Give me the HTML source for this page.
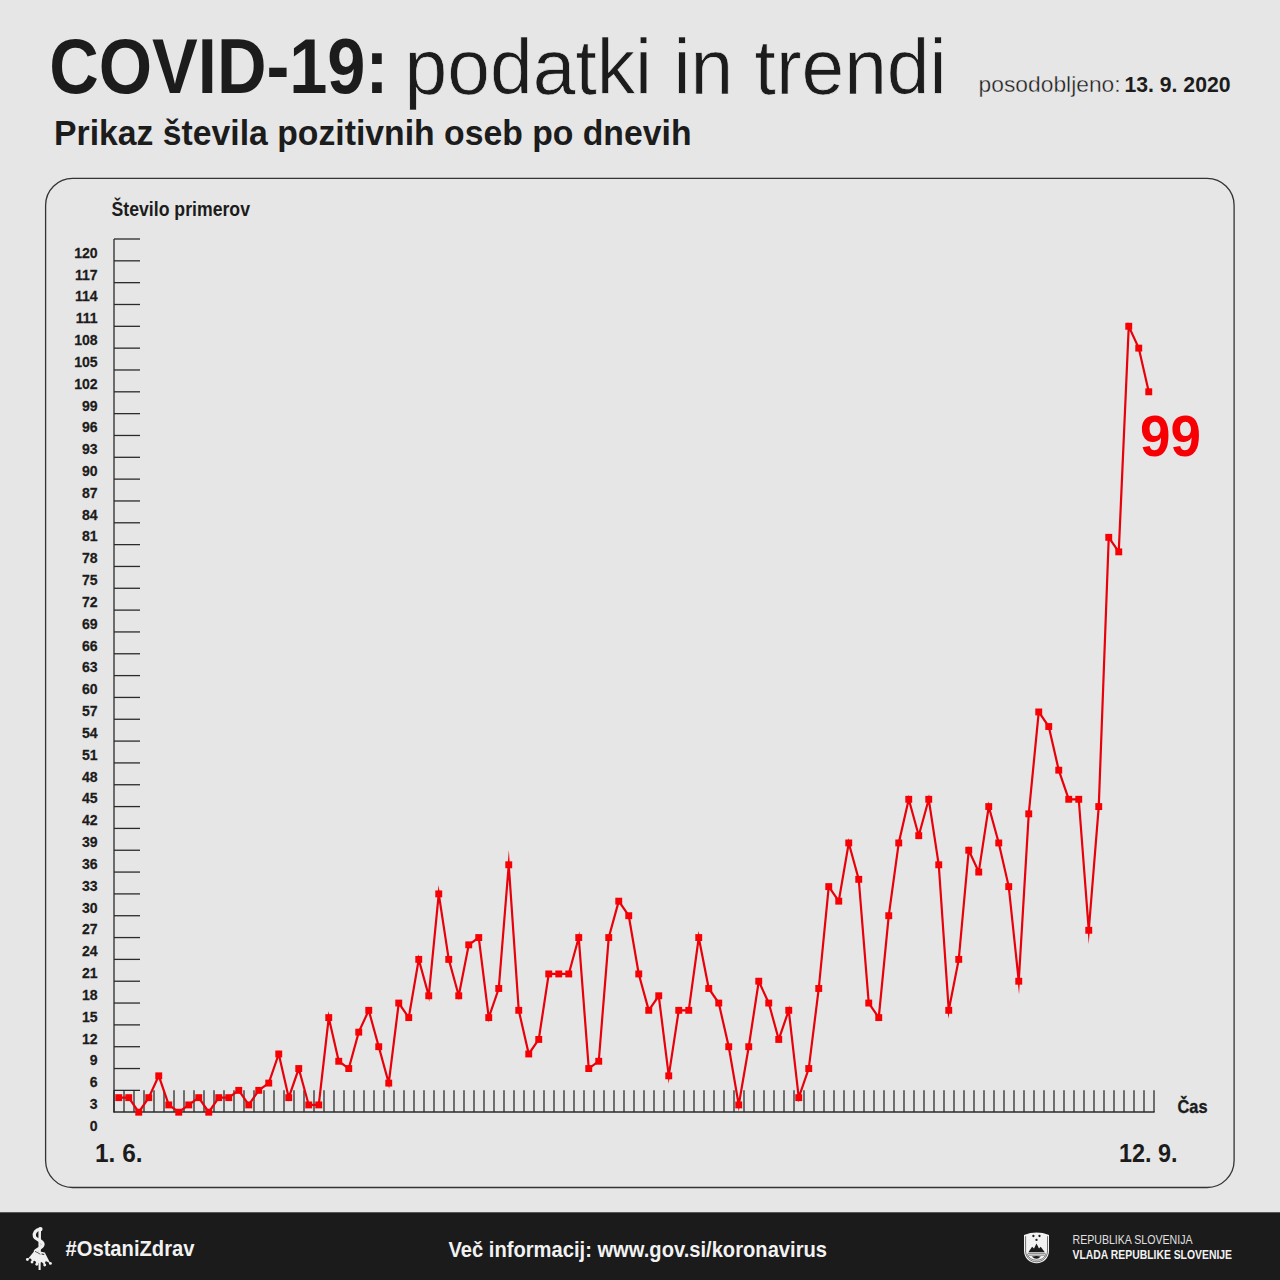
<!DOCTYPE html>
<html><head><meta charset="utf-8">
<style>
html,body{margin:0;padding:0;background:#e6e6e6;}
body{width:1280px;height:1280px;overflow:hidden;position:relative;}
svg{position:absolute;left:0;top:0;}
text{font-family:"Liberation Sans",sans-serif;fill:#1c1c1c;}
.b{font-weight:bold;}
.r{font-weight:normal;}
.yl{font-weight:bold;font-size:15.3px;text-anchor:end;stroke:#1c1c1c;stroke-width:0.25;}
</style></head><body>
<svg width="1280" height="1280" viewBox="0 0 1280 1280">
<text x="49.3" y="93.3" class="b" font-size="77.5" textLength="339" lengthAdjust="spacingAndGlyphs">COVID-19:</text><text x="404.6" y="93.9" class="r" style="stroke:#e6e6e6;stroke-width:0.7" font-size="77" textLength="542" lengthAdjust="spacingAndGlyphs">podatki in trendi</text><text x="978.6" y="91.6" class="r" style="stroke:#e6e6e6;stroke-width:0.35" font-size="22" textLength="142" lengthAdjust="spacingAndGlyphs">posodobljeno:</text><text x="1124.5" y="91.6" class="b" font-size="21.5" textLength="106" lengthAdjust="spacingAndGlyphs">13. 9. 2020</text><text x="54" y="144.6" class="b" font-size="35" textLength="637.5" lengthAdjust="spacingAndGlyphs">Prikaz števila pozitivnih oseb po dnevih</text><text x="111.5" y="215.75" class="b" font-size="19.5" textLength="138.5" lengthAdjust="spacingAndGlyphs">Število primerov</text><text x="95" y="1162.4" class="b" font-size="25" textLength="47.5" lengthAdjust="spacingAndGlyphs">1. 6.</text><text x="1119" y="1162" class="b" font-size="25" textLength="58.5" lengthAdjust="spacingAndGlyphs">12. 9.</text><text x="1177.5" y="1112.6" class="b" style="stroke:#1c1c1c;stroke-width:0.35" font-size="18.5" textLength="30" lengthAdjust="spacingAndGlyphs">Čas</text><text x="1140" y="455.8" class="b" font-size="57.5" style="fill:#f70003" textLength="61" lengthAdjust="spacingAndGlyphs">99</text>
<rect x="45.6" y="178.4" width="1188.5" height="1009.1" rx="27" ry="27" fill="none" stroke="#333" stroke-width="1.3"/>
<line x1="114" y1="239" x2="114" y2="1112.6" stroke="#2b2b2b" stroke-width="1.3"/>
<line x1="114" y1="1090.37" x2="140" y2="1090.37" stroke="#2b2b2b" stroke-width="1.3"/>
<line x1="114" y1="1068.54" x2="140" y2="1068.54" stroke="#2b2b2b" stroke-width="1.3"/>
<line x1="114" y1="1046.71" x2="140" y2="1046.71" stroke="#2b2b2b" stroke-width="1.3"/>
<line x1="114" y1="1024.88" x2="140" y2="1024.88" stroke="#2b2b2b" stroke-width="1.3"/>
<line x1="114" y1="1003.05" x2="140" y2="1003.05" stroke="#2b2b2b" stroke-width="1.3"/>
<line x1="114" y1="981.22" x2="140" y2="981.22" stroke="#2b2b2b" stroke-width="1.3"/>
<line x1="114" y1="959.39" x2="140" y2="959.39" stroke="#2b2b2b" stroke-width="1.3"/>
<line x1="114" y1="937.56" x2="140" y2="937.56" stroke="#2b2b2b" stroke-width="1.3"/>
<line x1="114" y1="915.73" x2="140" y2="915.73" stroke="#2b2b2b" stroke-width="1.3"/>
<line x1="114" y1="893.90" x2="140" y2="893.90" stroke="#2b2b2b" stroke-width="1.3"/>
<line x1="114" y1="872.07" x2="140" y2="872.07" stroke="#2b2b2b" stroke-width="1.3"/>
<line x1="114" y1="850.24" x2="140" y2="850.24" stroke="#2b2b2b" stroke-width="1.3"/>
<line x1="114" y1="828.41" x2="140" y2="828.41" stroke="#2b2b2b" stroke-width="1.3"/>
<line x1="114" y1="806.58" x2="140" y2="806.58" stroke="#2b2b2b" stroke-width="1.3"/>
<line x1="114" y1="784.75" x2="140" y2="784.75" stroke="#2b2b2b" stroke-width="1.3"/>
<line x1="114" y1="762.92" x2="140" y2="762.92" stroke="#2b2b2b" stroke-width="1.3"/>
<line x1="114" y1="741.09" x2="140" y2="741.09" stroke="#2b2b2b" stroke-width="1.3"/>
<line x1="114" y1="719.26" x2="140" y2="719.26" stroke="#2b2b2b" stroke-width="1.3"/>
<line x1="114" y1="697.43" x2="140" y2="697.43" stroke="#2b2b2b" stroke-width="1.3"/>
<line x1="114" y1="675.60" x2="140" y2="675.60" stroke="#2b2b2b" stroke-width="1.3"/>
<line x1="114" y1="653.77" x2="140" y2="653.77" stroke="#2b2b2b" stroke-width="1.3"/>
<line x1="114" y1="631.94" x2="140" y2="631.94" stroke="#2b2b2b" stroke-width="1.3"/>
<line x1="114" y1="610.11" x2="140" y2="610.11" stroke="#2b2b2b" stroke-width="1.3"/>
<line x1="114" y1="588.28" x2="140" y2="588.28" stroke="#2b2b2b" stroke-width="1.3"/>
<line x1="114" y1="566.45" x2="140" y2="566.45" stroke="#2b2b2b" stroke-width="1.3"/>
<line x1="114" y1="544.62" x2="140" y2="544.62" stroke="#2b2b2b" stroke-width="1.3"/>
<line x1="114" y1="522.79" x2="140" y2="522.79" stroke="#2b2b2b" stroke-width="1.3"/>
<line x1="114" y1="500.96" x2="140" y2="500.96" stroke="#2b2b2b" stroke-width="1.3"/>
<line x1="114" y1="479.13" x2="140" y2="479.13" stroke="#2b2b2b" stroke-width="1.3"/>
<line x1="114" y1="457.30" x2="140" y2="457.30" stroke="#2b2b2b" stroke-width="1.3"/>
<line x1="114" y1="435.47" x2="140" y2="435.47" stroke="#2b2b2b" stroke-width="1.3"/>
<line x1="114" y1="413.64" x2="140" y2="413.64" stroke="#2b2b2b" stroke-width="1.3"/>
<line x1="114" y1="391.81" x2="140" y2="391.81" stroke="#2b2b2b" stroke-width="1.3"/>
<line x1="114" y1="369.98" x2="140" y2="369.98" stroke="#2b2b2b" stroke-width="1.3"/>
<line x1="114" y1="348.15" x2="140" y2="348.15" stroke="#2b2b2b" stroke-width="1.3"/>
<line x1="114" y1="326.32" x2="140" y2="326.32" stroke="#2b2b2b" stroke-width="1.3"/>
<line x1="114" y1="304.49" x2="140" y2="304.49" stroke="#2b2b2b" stroke-width="1.3"/>
<line x1="114" y1="282.66" x2="140" y2="282.66" stroke="#2b2b2b" stroke-width="1.3"/>
<line x1="114" y1="260.83" x2="140" y2="260.83" stroke="#2b2b2b" stroke-width="1.3"/>
<line x1="114" y1="239.00" x2="140" y2="239.00" stroke="#2b2b2b" stroke-width="1.3"/>
<line x1="113.4" y1="1112" x2="1154.6" y2="1112" stroke="#2b2b2b" stroke-width="1.3"/>
<line x1="114" y1="1090.3" x2="114" y2="1112" stroke="#262626" stroke-width="1.25"/>
<line x1="124" y1="1090.3" x2="124" y2="1112" stroke="#262626" stroke-width="1.25"/>
<line x1="134" y1="1090.3" x2="134" y2="1112" stroke="#262626" stroke-width="1.25"/>
<line x1="144" y1="1090.3" x2="144" y2="1112" stroke="#262626" stroke-width="1.25"/>
<line x1="154" y1="1090.3" x2="154" y2="1112" stroke="#262626" stroke-width="1.25"/>
<line x1="164" y1="1090.3" x2="164" y2="1112" stroke="#262626" stroke-width="1.25"/>
<line x1="174" y1="1090.3" x2="174" y2="1112" stroke="#262626" stroke-width="1.25"/>
<line x1="184" y1="1090.3" x2="184" y2="1112" stroke="#262626" stroke-width="1.25"/>
<line x1="194" y1="1090.3" x2="194" y2="1112" stroke="#262626" stroke-width="1.25"/>
<line x1="204" y1="1090.3" x2="204" y2="1112" stroke="#262626" stroke-width="1.25"/>
<line x1="214" y1="1090.3" x2="214" y2="1112" stroke="#262626" stroke-width="1.25"/>
<line x1="224" y1="1090.3" x2="224" y2="1112" stroke="#262626" stroke-width="1.25"/>
<line x1="234" y1="1090.3" x2="234" y2="1112" stroke="#262626" stroke-width="1.25"/>
<line x1="244" y1="1090.3" x2="244" y2="1112" stroke="#262626" stroke-width="1.25"/>
<line x1="254" y1="1090.3" x2="254" y2="1112" stroke="#262626" stroke-width="1.25"/>
<line x1="264" y1="1090.3" x2="264" y2="1112" stroke="#262626" stroke-width="1.25"/>
<line x1="274" y1="1090.3" x2="274" y2="1112" stroke="#262626" stroke-width="1.25"/>
<line x1="284" y1="1090.3" x2="284" y2="1112" stroke="#262626" stroke-width="1.25"/>
<line x1="294" y1="1090.3" x2="294" y2="1112" stroke="#262626" stroke-width="1.25"/>
<line x1="304" y1="1090.3" x2="304" y2="1112" stroke="#262626" stroke-width="1.25"/>
<line x1="314" y1="1090.3" x2="314" y2="1112" stroke="#262626" stroke-width="1.25"/>
<line x1="324" y1="1090.3" x2="324" y2="1112" stroke="#262626" stroke-width="1.25"/>
<line x1="334" y1="1090.3" x2="334" y2="1112" stroke="#262626" stroke-width="1.25"/>
<line x1="344" y1="1090.3" x2="344" y2="1112" stroke="#262626" stroke-width="1.25"/>
<line x1="354" y1="1090.3" x2="354" y2="1112" stroke="#262626" stroke-width="1.25"/>
<line x1="364" y1="1090.3" x2="364" y2="1112" stroke="#262626" stroke-width="1.25"/>
<line x1="374" y1="1090.3" x2="374" y2="1112" stroke="#262626" stroke-width="1.25"/>
<line x1="384" y1="1090.3" x2="384" y2="1112" stroke="#262626" stroke-width="1.25"/>
<line x1="394" y1="1090.3" x2="394" y2="1112" stroke="#262626" stroke-width="1.25"/>
<line x1="404" y1="1090.3" x2="404" y2="1112" stroke="#262626" stroke-width="1.25"/>
<line x1="414" y1="1090.3" x2="414" y2="1112" stroke="#262626" stroke-width="1.25"/>
<line x1="424" y1="1090.3" x2="424" y2="1112" stroke="#262626" stroke-width="1.25"/>
<line x1="434" y1="1090.3" x2="434" y2="1112" stroke="#262626" stroke-width="1.25"/>
<line x1="444" y1="1090.3" x2="444" y2="1112" stroke="#262626" stroke-width="1.25"/>
<line x1="454" y1="1090.3" x2="454" y2="1112" stroke="#262626" stroke-width="1.25"/>
<line x1="464" y1="1090.3" x2="464" y2="1112" stroke="#262626" stroke-width="1.25"/>
<line x1="474" y1="1090.3" x2="474" y2="1112" stroke="#262626" stroke-width="1.25"/>
<line x1="484" y1="1090.3" x2="484" y2="1112" stroke="#262626" stroke-width="1.25"/>
<line x1="494" y1="1090.3" x2="494" y2="1112" stroke="#262626" stroke-width="1.25"/>
<line x1="504" y1="1090.3" x2="504" y2="1112" stroke="#262626" stroke-width="1.25"/>
<line x1="514" y1="1090.3" x2="514" y2="1112" stroke="#262626" stroke-width="1.25"/>
<line x1="524" y1="1090.3" x2="524" y2="1112" stroke="#262626" stroke-width="1.25"/>
<line x1="534" y1="1090.3" x2="534" y2="1112" stroke="#262626" stroke-width="1.25"/>
<line x1="544" y1="1090.3" x2="544" y2="1112" stroke="#262626" stroke-width="1.25"/>
<line x1="554" y1="1090.3" x2="554" y2="1112" stroke="#262626" stroke-width="1.25"/>
<line x1="564" y1="1090.3" x2="564" y2="1112" stroke="#262626" stroke-width="1.25"/>
<line x1="574" y1="1090.3" x2="574" y2="1112" stroke="#262626" stroke-width="1.25"/>
<line x1="584" y1="1090.3" x2="584" y2="1112" stroke="#262626" stroke-width="1.25"/>
<line x1="594" y1="1090.3" x2="594" y2="1112" stroke="#262626" stroke-width="1.25"/>
<line x1="604" y1="1090.3" x2="604" y2="1112" stroke="#262626" stroke-width="1.25"/>
<line x1="614" y1="1090.3" x2="614" y2="1112" stroke="#262626" stroke-width="1.25"/>
<line x1="624" y1="1090.3" x2="624" y2="1112" stroke="#262626" stroke-width="1.25"/>
<line x1="634" y1="1090.3" x2="634" y2="1112" stroke="#262626" stroke-width="1.25"/>
<line x1="644" y1="1090.3" x2="644" y2="1112" stroke="#262626" stroke-width="1.25"/>
<line x1="654" y1="1090.3" x2="654" y2="1112" stroke="#262626" stroke-width="1.25"/>
<line x1="664" y1="1090.3" x2="664" y2="1112" stroke="#262626" stroke-width="1.25"/>
<line x1="674" y1="1090.3" x2="674" y2="1112" stroke="#262626" stroke-width="1.25"/>
<line x1="684" y1="1090.3" x2="684" y2="1112" stroke="#262626" stroke-width="1.25"/>
<line x1="694" y1="1090.3" x2="694" y2="1112" stroke="#262626" stroke-width="1.25"/>
<line x1="704" y1="1090.3" x2="704" y2="1112" stroke="#262626" stroke-width="1.25"/>
<line x1="714" y1="1090.3" x2="714" y2="1112" stroke="#262626" stroke-width="1.25"/>
<line x1="724" y1="1090.3" x2="724" y2="1112" stroke="#262626" stroke-width="1.25"/>
<line x1="734" y1="1090.3" x2="734" y2="1112" stroke="#262626" stroke-width="1.25"/>
<line x1="744" y1="1090.3" x2="744" y2="1112" stroke="#262626" stroke-width="1.25"/>
<line x1="754" y1="1090.3" x2="754" y2="1112" stroke="#262626" stroke-width="1.25"/>
<line x1="764" y1="1090.3" x2="764" y2="1112" stroke="#262626" stroke-width="1.25"/>
<line x1="774" y1="1090.3" x2="774" y2="1112" stroke="#262626" stroke-width="1.25"/>
<line x1="784" y1="1090.3" x2="784" y2="1112" stroke="#262626" stroke-width="1.25"/>
<line x1="794" y1="1090.3" x2="794" y2="1112" stroke="#262626" stroke-width="1.25"/>
<line x1="804" y1="1090.3" x2="804" y2="1112" stroke="#262626" stroke-width="1.25"/>
<line x1="814" y1="1090.3" x2="814" y2="1112" stroke="#262626" stroke-width="1.25"/>
<line x1="824" y1="1090.3" x2="824" y2="1112" stroke="#262626" stroke-width="1.25"/>
<line x1="834" y1="1090.3" x2="834" y2="1112" stroke="#262626" stroke-width="1.25"/>
<line x1="844" y1="1090.3" x2="844" y2="1112" stroke="#262626" stroke-width="1.25"/>
<line x1="854" y1="1090.3" x2="854" y2="1112" stroke="#262626" stroke-width="1.25"/>
<line x1="864" y1="1090.3" x2="864" y2="1112" stroke="#262626" stroke-width="1.25"/>
<line x1="874" y1="1090.3" x2="874" y2="1112" stroke="#262626" stroke-width="1.25"/>
<line x1="884" y1="1090.3" x2="884" y2="1112" stroke="#262626" stroke-width="1.25"/>
<line x1="894" y1="1090.3" x2="894" y2="1112" stroke="#262626" stroke-width="1.25"/>
<line x1="904" y1="1090.3" x2="904" y2="1112" stroke="#262626" stroke-width="1.25"/>
<line x1="914" y1="1090.3" x2="914" y2="1112" stroke="#262626" stroke-width="1.25"/>
<line x1="924" y1="1090.3" x2="924" y2="1112" stroke="#262626" stroke-width="1.25"/>
<line x1="934" y1="1090.3" x2="934" y2="1112" stroke="#262626" stroke-width="1.25"/>
<line x1="944" y1="1090.3" x2="944" y2="1112" stroke="#262626" stroke-width="1.25"/>
<line x1="954" y1="1090.3" x2="954" y2="1112" stroke="#262626" stroke-width="1.25"/>
<line x1="964" y1="1090.3" x2="964" y2="1112" stroke="#262626" stroke-width="1.25"/>
<line x1="974" y1="1090.3" x2="974" y2="1112" stroke="#262626" stroke-width="1.25"/>
<line x1="984" y1="1090.3" x2="984" y2="1112" stroke="#262626" stroke-width="1.25"/>
<line x1="994" y1="1090.3" x2="994" y2="1112" stroke="#262626" stroke-width="1.25"/>
<line x1="1004" y1="1090.3" x2="1004" y2="1112" stroke="#262626" stroke-width="1.25"/>
<line x1="1014" y1="1090.3" x2="1014" y2="1112" stroke="#262626" stroke-width="1.25"/>
<line x1="1024" y1="1090.3" x2="1024" y2="1112" stroke="#262626" stroke-width="1.25"/>
<line x1="1034" y1="1090.3" x2="1034" y2="1112" stroke="#262626" stroke-width="1.25"/>
<line x1="1044" y1="1090.3" x2="1044" y2="1112" stroke="#262626" stroke-width="1.25"/>
<line x1="1054" y1="1090.3" x2="1054" y2="1112" stroke="#262626" stroke-width="1.25"/>
<line x1="1064" y1="1090.3" x2="1064" y2="1112" stroke="#262626" stroke-width="1.25"/>
<line x1="1074" y1="1090.3" x2="1074" y2="1112" stroke="#262626" stroke-width="1.25"/>
<line x1="1084" y1="1090.3" x2="1084" y2="1112" stroke="#262626" stroke-width="1.25"/>
<line x1="1094" y1="1090.3" x2="1094" y2="1112" stroke="#262626" stroke-width="1.25"/>
<line x1="1104" y1="1090.3" x2="1104" y2="1112" stroke="#262626" stroke-width="1.25"/>
<line x1="1114" y1="1090.3" x2="1114" y2="1112" stroke="#262626" stroke-width="1.25"/>
<line x1="1124" y1="1090.3" x2="1124" y2="1112" stroke="#262626" stroke-width="1.25"/>
<line x1="1134" y1="1090.3" x2="1134" y2="1112" stroke="#262626" stroke-width="1.25"/>
<line x1="1144" y1="1090.3" x2="1144" y2="1112" stroke="#262626" stroke-width="1.25"/>
<line x1="1154" y1="1090.3" x2="1154" y2="1112" stroke="#262626" stroke-width="1.25"/>
<text transform="translate(97.6,1130.90) scale(0.92,1)" x="0" y="0" class="yl">0</text>
<text transform="translate(97.6,1109.07) scale(0.92,1)" x="0" y="0" class="yl">3</text>
<text transform="translate(97.6,1087.24) scale(0.92,1)" x="0" y="0" class="yl">6</text>
<text transform="translate(97.6,1065.41) scale(0.92,1)" x="0" y="0" class="yl">9</text>
<text transform="translate(97.6,1043.58) scale(0.92,1)" x="0" y="0" class="yl">12</text>
<text transform="translate(97.6,1021.75) scale(0.92,1)" x="0" y="0" class="yl">15</text>
<text transform="translate(97.6,999.92) scale(0.92,1)" x="0" y="0" class="yl">18</text>
<text transform="translate(97.6,978.09) scale(0.92,1)" x="0" y="0" class="yl">21</text>
<text transform="translate(97.6,956.26) scale(0.92,1)" x="0" y="0" class="yl">24</text>
<text transform="translate(97.6,934.43) scale(0.92,1)" x="0" y="0" class="yl">27</text>
<text transform="translate(97.6,912.60) scale(0.92,1)" x="0" y="0" class="yl">30</text>
<text transform="translate(97.6,890.77) scale(0.92,1)" x="0" y="0" class="yl">33</text>
<text transform="translate(97.6,868.94) scale(0.92,1)" x="0" y="0" class="yl">36</text>
<text transform="translate(97.6,847.11) scale(0.92,1)" x="0" y="0" class="yl">39</text>
<text transform="translate(97.6,825.28) scale(0.92,1)" x="0" y="0" class="yl">42</text>
<text transform="translate(97.6,803.45) scale(0.92,1)" x="0" y="0" class="yl">45</text>
<text transform="translate(97.6,781.62) scale(0.92,1)" x="0" y="0" class="yl">48</text>
<text transform="translate(97.6,759.79) scale(0.92,1)" x="0" y="0" class="yl">51</text>
<text transform="translate(97.6,737.96) scale(0.92,1)" x="0" y="0" class="yl">54</text>
<text transform="translate(97.6,716.13) scale(0.92,1)" x="0" y="0" class="yl">57</text>
<text transform="translate(97.6,694.30) scale(0.92,1)" x="0" y="0" class="yl">60</text>
<text transform="translate(97.6,672.47) scale(0.92,1)" x="0" y="0" class="yl">63</text>
<text transform="translate(97.6,650.64) scale(0.92,1)" x="0" y="0" class="yl">66</text>
<text transform="translate(97.6,628.81) scale(0.92,1)" x="0" y="0" class="yl">69</text>
<text transform="translate(97.6,606.98) scale(0.92,1)" x="0" y="0" class="yl">72</text>
<text transform="translate(97.6,585.15) scale(0.92,1)" x="0" y="0" class="yl">75</text>
<text transform="translate(97.6,563.32) scale(0.92,1)" x="0" y="0" class="yl">78</text>
<text transform="translate(97.6,541.49) scale(0.92,1)" x="0" y="0" class="yl">81</text>
<text transform="translate(97.6,519.66) scale(0.92,1)" x="0" y="0" class="yl">84</text>
<text transform="translate(97.6,497.83) scale(0.92,1)" x="0" y="0" class="yl">87</text>
<text transform="translate(97.6,476.00) scale(0.92,1)" x="0" y="0" class="yl">90</text>
<text transform="translate(97.6,454.17) scale(0.92,1)" x="0" y="0" class="yl">93</text>
<text transform="translate(97.6,432.34) scale(0.92,1)" x="0" y="0" class="yl">96</text>
<text transform="translate(97.6,410.51) scale(0.92,1)" x="0" y="0" class="yl">99</text>
<text transform="translate(97.6,388.68) scale(0.92,1)" x="0" y="0" class="yl">102</text>
<text transform="translate(97.6,366.85) scale(0.92,1)" x="0" y="0" class="yl">105</text>
<text transform="translate(97.6,345.02) scale(0.92,1)" x="0" y="0" class="yl">108</text>
<text transform="translate(97.6,323.19) scale(0.92,1)" x="0" y="0" class="yl">111</text>
<text transform="translate(97.6,301.36) scale(0.92,1)" x="0" y="0" class="yl">114</text>
<text transform="translate(97.6,279.53) scale(0.92,1)" x="0" y="0" class="yl">117</text>
<text transform="translate(97.6,257.70) scale(0.92,1)" x="0" y="0" class="yl">120</text>
<polyline points="118.75,1097.65 128.75,1097.65 138.75,1112.20 148.75,1097.65 158.75,1075.82 168.75,1104.92 178.75,1112.20 188.75,1104.92 198.75,1097.65 208.75,1112.20 218.75,1097.65 228.75,1097.65 238.75,1090.37 248.75,1104.92 258.75,1090.37 268.75,1083.09 278.75,1053.98 288.75,1097.65 298.75,1068.54 308.75,1104.92 318.75,1104.92 328.75,1017.60 338.75,1061.26 348.75,1068.54 358.75,1032.15 368.75,1010.32 378.75,1046.71 388.75,1083.09 398.75,1003.05 408.75,1017.60 418.75,959.38 428.75,995.77 438.75,893.89 448.75,959.38 458.75,995.77 468.75,944.83 478.75,937.55 488.75,1017.60 498.75,988.49 508.75,864.78 518.75,1010.32 528.75,1053.98 538.75,1039.43 548.75,973.94 558.75,973.94 568.75,973.94 578.75,937.55 588.75,1068.54 598.75,1061.26 608.75,937.55 618.75,901.17 628.75,915.72 638.75,973.94 648.75,1010.32 658.75,995.77 668.75,1075.82 678.75,1010.32 688.75,1010.32 698.75,937.55 708.75,988.49 718.75,1003.05 728.75,1046.71 738.75,1104.92 748.75,1046.71 758.75,981.21 768.75,1003.05 778.75,1039.43 788.75,1010.32 798.75,1097.65 808.75,1068.54 818.75,988.49 828.75,886.61 838.75,901.17 848.75,842.95 858.75,879.34 868.75,1003.05 878.75,1017.60 888.75,915.72 898.75,842.95 908.75,799.29 918.75,835.67 928.75,799.29 938.75,864.78 948.75,1010.32 958.75,959.38 968.75,850.23 978.75,872.06 988.75,806.57 998.75,842.95 1008.75,886.61 1018.75,981.21 1028.75,813.84 1038.75,711.97 1048.75,726.52 1058.75,770.18 1068.75,799.29 1078.75,799.29 1088.75,930.28 1098.75,806.57 1108.75,537.32 1118.75,551.87 1128.75,326.28 1138.75,348.12 1148.75,391.78" fill="none" stroke="#e8000a" stroke-width="2.2" stroke-linejoin="miter" stroke-miterlimit="30"/>
<rect x="115.30" y="1094.20" width="6.9" height="6.9" fill="#f70003"/>
<rect x="125.30" y="1094.20" width="6.9" height="6.9" fill="#f70003"/>
<rect x="135.30" y="1108.75" width="6.9" height="6.9" fill="#f70003"/>
<rect x="145.30" y="1094.20" width="6.9" height="6.9" fill="#f70003"/>
<rect x="155.30" y="1072.37" width="6.9" height="6.9" fill="#f70003"/>
<rect x="165.30" y="1101.47" width="6.9" height="6.9" fill="#f70003"/>
<rect x="175.30" y="1108.75" width="6.9" height="6.9" fill="#f70003"/>
<rect x="185.30" y="1101.47" width="6.9" height="6.9" fill="#f70003"/>
<rect x="195.30" y="1094.20" width="6.9" height="6.9" fill="#f70003"/>
<rect x="205.30" y="1108.75" width="6.9" height="6.9" fill="#f70003"/>
<rect x="215.30" y="1094.20" width="6.9" height="6.9" fill="#f70003"/>
<rect x="225.30" y="1094.20" width="6.9" height="6.9" fill="#f70003"/>
<rect x="235.30" y="1086.92" width="6.9" height="6.9" fill="#f70003"/>
<rect x="245.30" y="1101.47" width="6.9" height="6.9" fill="#f70003"/>
<rect x="255.30" y="1086.92" width="6.9" height="6.9" fill="#f70003"/>
<rect x="265.30" y="1079.64" width="6.9" height="6.9" fill="#f70003"/>
<rect x="275.30" y="1050.53" width="6.9" height="6.9" fill="#f70003"/>
<rect x="285.30" y="1094.20" width="6.9" height="6.9" fill="#f70003"/>
<rect x="295.30" y="1065.09" width="6.9" height="6.9" fill="#f70003"/>
<rect x="305.30" y="1101.47" width="6.9" height="6.9" fill="#f70003"/>
<rect x="315.30" y="1101.47" width="6.9" height="6.9" fill="#f70003"/>
<rect x="325.30" y="1014.15" width="6.9" height="6.9" fill="#f70003"/>
<rect x="335.30" y="1057.81" width="6.9" height="6.9" fill="#f70003"/>
<rect x="345.30" y="1065.09" width="6.9" height="6.9" fill="#f70003"/>
<rect x="355.30" y="1028.70" width="6.9" height="6.9" fill="#f70003"/>
<rect x="365.30" y="1006.87" width="6.9" height="6.9" fill="#f70003"/>
<rect x="375.30" y="1043.26" width="6.9" height="6.9" fill="#f70003"/>
<rect x="385.30" y="1079.64" width="6.9" height="6.9" fill="#f70003"/>
<rect x="395.30" y="999.60" width="6.9" height="6.9" fill="#f70003"/>
<rect x="405.30" y="1014.15" width="6.9" height="6.9" fill="#f70003"/>
<rect x="415.30" y="955.93" width="6.9" height="6.9" fill="#f70003"/>
<rect x="425.30" y="992.32" width="6.9" height="6.9" fill="#f70003"/>
<rect x="435.30" y="890.44" width="6.9" height="6.9" fill="#f70003"/>
<rect x="445.30" y="955.93" width="6.9" height="6.9" fill="#f70003"/>
<rect x="455.30" y="992.32" width="6.9" height="6.9" fill="#f70003"/>
<rect x="465.30" y="941.38" width="6.9" height="6.9" fill="#f70003"/>
<rect x="475.30" y="934.10" width="6.9" height="6.9" fill="#f70003"/>
<rect x="485.30" y="1014.15" width="6.9" height="6.9" fill="#f70003"/>
<rect x="495.30" y="985.04" width="6.9" height="6.9" fill="#f70003"/>
<rect x="505.30" y="861.33" width="6.9" height="6.9" fill="#f70003"/>
<rect x="515.30" y="1006.87" width="6.9" height="6.9" fill="#f70003"/>
<rect x="525.30" y="1050.53" width="6.9" height="6.9" fill="#f70003"/>
<rect x="535.30" y="1035.98" width="6.9" height="6.9" fill="#f70003"/>
<rect x="545.30" y="970.49" width="6.9" height="6.9" fill="#f70003"/>
<rect x="555.30" y="970.49" width="6.9" height="6.9" fill="#f70003"/>
<rect x="565.30" y="970.49" width="6.9" height="6.9" fill="#f70003"/>
<rect x="575.30" y="934.10" width="6.9" height="6.9" fill="#f70003"/>
<rect x="585.30" y="1065.09" width="6.9" height="6.9" fill="#f70003"/>
<rect x="595.30" y="1057.81" width="6.9" height="6.9" fill="#f70003"/>
<rect x="605.30" y="934.10" width="6.9" height="6.9" fill="#f70003"/>
<rect x="615.30" y="897.72" width="6.9" height="6.9" fill="#f70003"/>
<rect x="625.30" y="912.27" width="6.9" height="6.9" fill="#f70003"/>
<rect x="635.30" y="970.49" width="6.9" height="6.9" fill="#f70003"/>
<rect x="645.30" y="1006.87" width="6.9" height="6.9" fill="#f70003"/>
<rect x="655.30" y="992.32" width="6.9" height="6.9" fill="#f70003"/>
<rect x="665.30" y="1072.37" width="6.9" height="6.9" fill="#f70003"/>
<rect x="675.30" y="1006.87" width="6.9" height="6.9" fill="#f70003"/>
<rect x="685.30" y="1006.87" width="6.9" height="6.9" fill="#f70003"/>
<rect x="695.30" y="934.10" width="6.9" height="6.9" fill="#f70003"/>
<rect x="705.30" y="985.04" width="6.9" height="6.9" fill="#f70003"/>
<rect x="715.30" y="999.60" width="6.9" height="6.9" fill="#f70003"/>
<rect x="725.30" y="1043.26" width="6.9" height="6.9" fill="#f70003"/>
<rect x="735.30" y="1101.47" width="6.9" height="6.9" fill="#f70003"/>
<rect x="745.30" y="1043.26" width="6.9" height="6.9" fill="#f70003"/>
<rect x="755.30" y="977.76" width="6.9" height="6.9" fill="#f70003"/>
<rect x="765.30" y="999.60" width="6.9" height="6.9" fill="#f70003"/>
<rect x="775.30" y="1035.98" width="6.9" height="6.9" fill="#f70003"/>
<rect x="785.30" y="1006.87" width="6.9" height="6.9" fill="#f70003"/>
<rect x="795.30" y="1094.20" width="6.9" height="6.9" fill="#f70003"/>
<rect x="805.30" y="1065.09" width="6.9" height="6.9" fill="#f70003"/>
<rect x="815.30" y="985.04" width="6.9" height="6.9" fill="#f70003"/>
<rect x="825.30" y="883.16" width="6.9" height="6.9" fill="#f70003"/>
<rect x="835.30" y="897.72" width="6.9" height="6.9" fill="#f70003"/>
<rect x="845.30" y="839.50" width="6.9" height="6.9" fill="#f70003"/>
<rect x="855.30" y="875.89" width="6.9" height="6.9" fill="#f70003"/>
<rect x="865.30" y="999.60" width="6.9" height="6.9" fill="#f70003"/>
<rect x="875.30" y="1014.15" width="6.9" height="6.9" fill="#f70003"/>
<rect x="885.30" y="912.27" width="6.9" height="6.9" fill="#f70003"/>
<rect x="895.30" y="839.50" width="6.9" height="6.9" fill="#f70003"/>
<rect x="905.30" y="795.84" width="6.9" height="6.9" fill="#f70003"/>
<rect x="915.30" y="832.22" width="6.9" height="6.9" fill="#f70003"/>
<rect x="925.30" y="795.84" width="6.9" height="6.9" fill="#f70003"/>
<rect x="935.30" y="861.33" width="6.9" height="6.9" fill="#f70003"/>
<rect x="945.30" y="1006.87" width="6.9" height="6.9" fill="#f70003"/>
<rect x="955.30" y="955.93" width="6.9" height="6.9" fill="#f70003"/>
<rect x="965.30" y="846.78" width="6.9" height="6.9" fill="#f70003"/>
<rect x="975.30" y="868.61" width="6.9" height="6.9" fill="#f70003"/>
<rect x="985.30" y="803.12" width="6.9" height="6.9" fill="#f70003"/>
<rect x="995.30" y="839.50" width="6.9" height="6.9" fill="#f70003"/>
<rect x="1005.30" y="883.16" width="6.9" height="6.9" fill="#f70003"/>
<rect x="1015.30" y="977.76" width="6.9" height="6.9" fill="#f70003"/>
<rect x="1025.30" y="810.39" width="6.9" height="6.9" fill="#f70003"/>
<rect x="1035.30" y="708.51" width="6.9" height="6.9" fill="#f70003"/>
<rect x="1045.30" y="723.07" width="6.9" height="6.9" fill="#f70003"/>
<rect x="1055.30" y="766.73" width="6.9" height="6.9" fill="#f70003"/>
<rect x="1065.30" y="795.84" width="6.9" height="6.9" fill="#f70003"/>
<rect x="1075.30" y="795.84" width="6.9" height="6.9" fill="#f70003"/>
<rect x="1085.30" y="926.83" width="6.9" height="6.9" fill="#f70003"/>
<rect x="1095.30" y="803.12" width="6.9" height="6.9" fill="#f70003"/>
<rect x="1105.30" y="533.87" width="6.9" height="6.9" fill="#f70003"/>
<rect x="1115.30" y="548.42" width="6.9" height="6.9" fill="#f70003"/>
<rect x="1125.30" y="322.83" width="6.9" height="6.9" fill="#f70003"/>
<rect x="1135.30" y="344.67" width="6.9" height="6.9" fill="#f70003"/>
<rect x="1145.30" y="388.33" width="6.9" height="6.9" fill="#f70003"/>

<rect x="0" y="1212.3" width="1280" height="68" fill="#1b1b1b"/>
<g transform="translate(20,1220)" style="fill:#f0f0f0">
<path d="M14.8,30.4 L24.8,32.6 L30.4,43.4 L26.8,41.6 Q26,40.8 25.4,41.6 L24.7,45 L22.2,42.4 Q21.4,41.6 20.6,42.2 L16.8,44.2 L15.4,41.2 Q14.6,40.2 13.8,41 L12,42.1 L11.2,39 Q10.6,38 9.8,38.6 L7.4,39.5 Z"/>
<circle cx="7.4" cy="39.5" r="1.45"/><circle cx="12" cy="42.1" r="1.45"/><circle cx="16.8" cy="44.2" r="1.45"/><circle cx="24.7" cy="45" r="1.45"/><circle cx="30.4" cy="43.4" r="1.45"/>
<path d="M18.4,10 L21,10 L20.6,50 L18.6,50 Z"/>
<path d="M20.3,9.2 C15.8,9.6 13.4,13.2 14.5,16.8 C15.6,20.2 23.2,20.2 23,24.4 C22.8,27.8 17.8,28.6 15.4,31.2" fill="none" stroke="#f0f0f0" stroke-width="3.3" stroke-linecap="round"/>
<circle cx="20.4" cy="9.1" r="2.2"/>
<path d="M15,31.3 L20.4,34.2" stroke="#1b1b1b" stroke-width="0.7"/>
<path d="M21.6,34 L24.2,34.4" stroke="#1b1b1b" stroke-width="1"/>
</g>
<g transform="translate(1018,1226)">
<path d="M6,8.9 Q18.7,4.3 31,8.9 L31,25 C31,32 25.5,37.3 18.6,37.3 C11.7,37.3 6,32 6,25 Z" style="fill:#f2f2f2"/>
<path d="M7.6,10.2 L7.6,25 C7.6,31 12.5,35.8 18.6,35.8 C24.7,35.8 29.5,31 29.5,25 L29.5,10.2" fill="none" stroke="#1b1b1b" stroke-width="0.6"/>
<circle cx="15.4" cy="10" r="1.15" style="fill:#1b1b1b"/><circle cx="21.5" cy="10" r="1.15" style="fill:#1b1b1b"/><circle cx="18.5" cy="13.9" r="1.15" style="fill:#1b1b1b"/>
<path d="M10.4,26.2 L14.1,20.8 L16,22.6 L18.5,17.6 L21,22.6 L22.7,20.8 L26.8,26.2 Z" style="fill:#1b1b1b"/>
<path d="M9.8,27.6 L27.6,27.6 M10.8,29.2 L26.6,29.2" stroke="#1b1b1b" stroke-width="0.5"/>
<path d="M13.8,30.4 Q18.6,29.6 22.8,30.4 Q18.6,35 13.8,30.4 Z" style="fill:#1b1b1b"/>
<path d="M9.4,28.2 C10.5,32 14,34.2 18.6,34.2 C23.2,34.2 26.7,32 27.8,28.2" fill="none" stroke="#1b1b1b" stroke-width="0.55"/>
</g>

<text x="65.5" y="1255.9" class="b" style="fill:#f2f2f2" font-size="22" textLength="129" lengthAdjust="spacingAndGlyphs">#OstaniZdrav</text>
<text x="448.5" y="1256.7" class="b" style="fill:#f2f2f2" font-size="22" textLength="378.5" lengthAdjust="spacingAndGlyphs">Več informacij: www.gov.si/koronavirus</text>
<text x="1072.5" y="1244" class="r" style="fill:#e0e0e0" font-size="12.8" textLength="120" lengthAdjust="spacingAndGlyphs">REPUBLIKA SLOVENIJA</text>
<text x="1072.5" y="1258.6" class="b" style="fill:#f2f2f2" font-size="12" textLength="159.5" lengthAdjust="spacingAndGlyphs">VLADA REPUBLIKE SLOVENIJE</text>

</svg>
</body></html>
